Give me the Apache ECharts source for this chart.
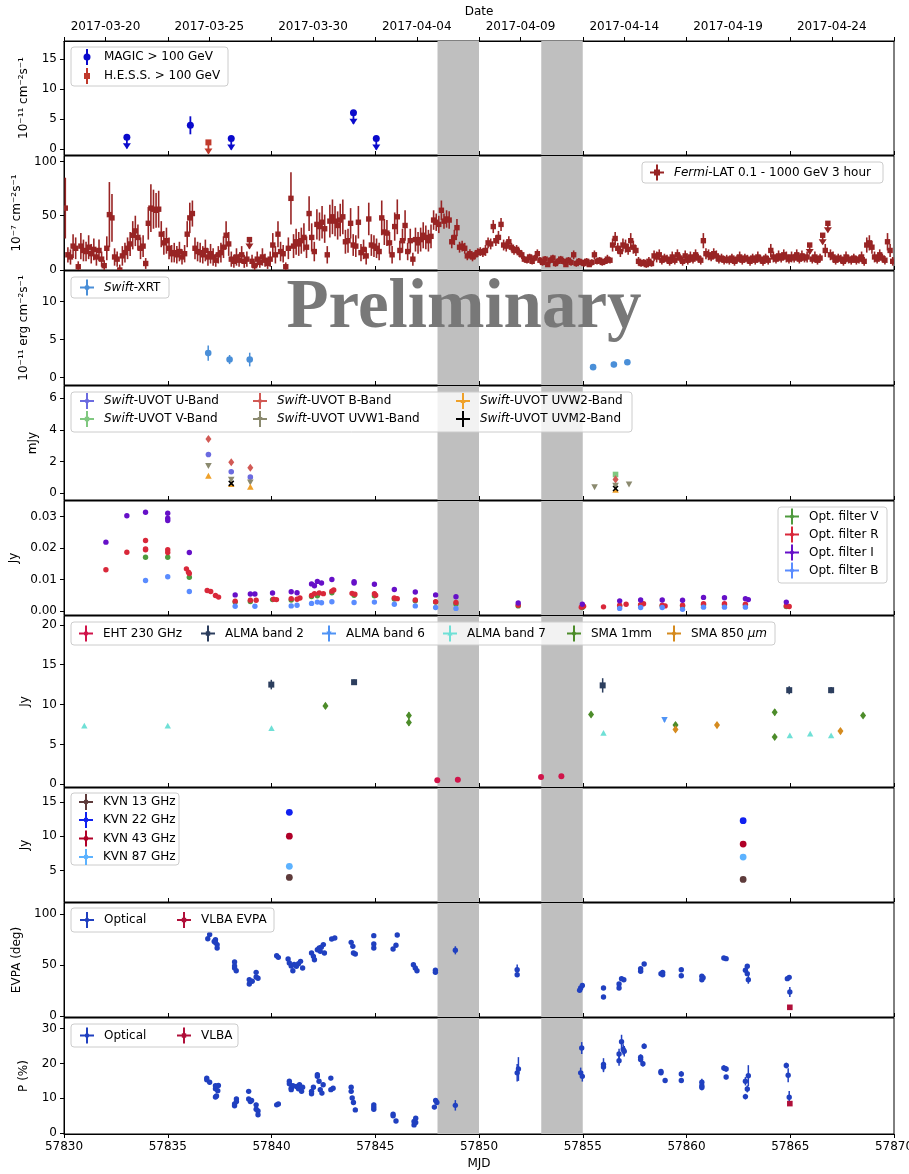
<!DOCTYPE html>
<html><head><meta charset="utf-8">
<script src="https://cdn.jsdelivr.net/npm/echarts@6/dist/echarts.min.js"></script>
<style>html,body{margin:0;padding:0;background:#fff}#c{width:909px;height:1174px}</style>
</head><body><div id="c"></div>
<script>
// ---------------- DATA ----------------
const mjdTicks = [57830,57835,57840,57845,57850,57855,57860,57865,57870];
const dateTickMJD = [57832,57837,57842,57847,57852,57857,57862,57867];
const dateTickLabels = ['2017-03-20','2017-03-25','2017-03-30','2017-04-04','2017-04-09','2017-04-14','2017-04-19','2017-04-24'];
const bands = [[57848,57850],[57853,57855]];

// [mjd, flux, err, upperLimit]
const magic = [[57833.03,1.95,0,1],[57836.09,3.95,1.5,0],[57838.06,1.75,0,1],[57843.95,6.05,0,1],[57845.05,1.75,0,1]];
const hess = [[57836.96,1.1,0,1]];

// Fermi-LAT 3-hour bins, one row per day starting MJD 57830
const fermiStart = 57830;
const fermiFlux = [
 [57,14,12,22,20,3,22,18],[17,21,15,19,12,18,10,4],[20,51,48,12,10,0,13,16],[20,24,32,36,30,20,22,6],
 [43,57,56,55,56,33,25,27],[20,15,16,14,17,12,15,33],[48,52,20,17,16,14,18,12],[15,12,9,14,16,21,32,24],
 [10,8,12,9,14,8,10,28],[8,4,10,7,12,9,6,10],[23,14,33,17,15,3,20,66],[22,26,24,27,30,21,52,30],
 [17,42,40,44,38,14,45,49],[45,41,46,49,26,27,43,23],[22,44,16,19,13,47,23,22],[20,17,48,35,34,25,14,40],
 [49,18,27,41,17,27,10,28],[25,28,32,30,27,31,46,44],[42,55,45,47,46,26,30,39],[21,22,20,13,15,12,14,16],
 [17,16,18,25,24,40,27,30],[42,23,22,26,21,18,19,16],[14,10,9,12,8,11,15,9],[7,10,5,9,11,6,8,10],
 [8,5,9,7,14,6,8,7],[6,8,5,7,14,8,9,7],[8,10,9,23,29,20,17,23],[22,19,27,21,18,8,6,7],
 [5,8,6,13,12,14,9,11],[10,8,12,9,14,11,8,13],[9,12,10,14,11,9,27,15],[14,12,15,13,10,11,9,10],
 [9,11,8,10,12,9,11,10],[8,11,9,12,10,8,11,9],[18,12,10,13,11,14,12,10],[12,11,14,10,13,11,12,23],
 [10,12,9,11,32,18,43,14],[12,9,11,10,8,12,10,9],[11,9,10,12,8,23,25,21],[12,10,14,11,9,26,18,8]
];
const fermiErr = [
 [28,7,7,11,10,5,12,10],[9,11,9,10,8,10,7,5],[11,30,22,8,7,5,9,9],[10,11,13,14,12,10,10,5],
 [15,22,18,16,17,12,11,12],[10,8,9,8,9,7,8,12],[14,12,10,9,9,8,10,8],[9,8,6,8,9,10,13,11],
 [7,6,8,6,8,6,7,0],[6,4,7,5,8,6,5,7],[11,8,12,9,8,4,10,24],[11,12,11,12,13,10,16,13],
 [9,14,13,15,13,8,15,16],[14,13,15,16,11,11,14,10],[10,15,8,9,8,15,10,10],[9,8,16,12,12,10,8,13],
 [16,9,11,14,8,11,6,11],[10,11,12,11,10,11,9,8],[8,9,7,8,8,6,7,8],[5,5,5,4,4,4,4,4],
 [4,4,5,5,5,6,5,6],[6,5,5,5,4,4,4,4],[4,3,3,3,3,3,4,3],[3,3,2,3,3,3,3,3],
 [3,2,3,3,4,3,3,3],[3,3,2,3,4,3,3,3],[3,4,3,6,6,5,5,6],[6,5,7,6,5,4,3,3],
 [3,4,3,5,5,5,4,4],[4,4,5,4,5,4,4,5],[4,5,4,5,4,4,7,5],[5,4,5,5,4,4,4,4],
 [4,4,4,4,5,4,4,4],[4,4,4,5,4,4,4,4],[6,5,4,5,4,5,5,4],[5,4,5,4,5,4,5,0],
 [4,5,4,4,0,6,0,5],[5,4,4,4,4,5,4,4],[4,4,4,5,4,7,7,6],[5,4,5,4,4,8,6,4]
];
const fermiUpperLimitBins = [71,287,292,294];

const xrt = [[57836.95,3.2,1.0],[57837.98,2.35,0.6],[57838.95,2.35,0.9],[57855.5,1.35,0.2],[57856.5,1.7,0.35],[57857.15,2.0,0.3]];

const uvotU = [[57836.96,2.45,0.08],[57838.06,1.36,0.08],[57838.98,1.02,0.08]];
const uvotV = [[57856.58,1.19,0.15]];
const uvotB = [[57836.96,3.43,0.15],[57838.06,1.96,0.12],[57838.98,1.61,0.12],[57856.58,0.88,0.12]];
const uvotW1 = [[57836.96,1.75,0.1],[57838.06,0.88,0.08],[57838.98,0.71,0.08],[57855.57,0.40,0.05],[57856.58,0.50,0.05],[57857.23,0.58,0.05]];
const uvotW2 = [[57836.96,1.09,0.08],[57838.06,0.56,0.06],[57838.98,0.40,0.05],[57856.58,0.20,0.04]];
const uvotM2 = [[57838.06,0.63,0.06],[57856.58,0.31,0.05]];

const optV = [[57833.93,0.0171],[57835.0,0.0171],[57836.04,0.0107],[57838.25,0.0028],[57838.98,0.0030],[57840.05,0.0036],[57840.95,0.0035],[57841.93,0.0046],[57842.21,0.0048],[57842.91,0.0058],[57843.98,0.0050],[57844.96,0.0048],[57845.92,0.0038],[57846.93,0.0032],[57847.91,0.0028],[57848.89,0.0022],[57851.89,0.0016],[57854.98,0.0011],[57856.78,0.0016],[57857.79,0.0018],[57858.83,0.0016],[57859.81,0.0016],[57860.82,0.0020],[57861.83,0.0020],[57862.84,0.0019],[57864.81,0.0014]];
const optR = [[57832.02,0.0131],[57833.03,0.0187],[57833.93,0.0224],[57833.93,0.0195],[57833.93,0.0197],[57835.0,0.0195],[57835.0,0.0186],[57835.9,0.0134],[57836.0,0.0123],[57836.04,0.0119],[57836.9,0.0065],[57837.07,0.0062],[57837.3,0.0049],[57837.45,0.0044],[57838.25,0.0031],[57838.98,0.0034],[57839.26,0.0034],[57840.1,0.0037],[57840.24,0.0036],[57840.95,0.0039],[57841.23,0.0037],[57841.37,0.0041],[57841.93,0.0049],[57842.07,0.0055],[57842.3,0.0057],[57842.5,0.0055],[57842.91,0.0063],[57843.0,0.0067],[57843.88,0.0056],[57844.02,0.0053],[57844.96,0.0055],[57845.02,0.0050],[57845.92,0.0041],[57846.06,0.0039],[57846.93,0.0035],[57847.91,0.0029],[57848.89,0.0027],[57851.89,0.0018],[57854.93,0.0012],[57855.04,0.0015],[57856.0,0.0013],[57856.78,0.0018],[57857.09,0.0021],[57857.79,0.0020],[57857.93,0.0023],[57858.83,0.0018],[57858.97,0.0016],[57859.81,0.0018],[57860.82,0.0023],[57861.83,0.0023],[57862.84,0.0021],[57864.81,0.0016],[57864.95,0.0014]];
const optI = [[57832.02,0.0219],[57833.03,0.0303],[57833.93,0.0314],[57835.0,0.0311],[57835.0,0.0295],[57835.0,0.0288],[57836.04,0.0186],[57838.25,0.0051],[57838.98,0.0054],[57839.2,0.0054],[57840.05,0.0057],[57840.95,0.0061],[57841.23,0.0058],[57841.93,0.0086],[57842.07,0.0080],[57842.21,0.0094],[57842.41,0.0089],[57842.91,0.0100],[57843.98,0.0089],[57843.98,0.0093],[57844.96,0.0085],[57845.92,0.0068],[57846.93,0.0060],[57847.91,0.0051],[57848.89,0.0045],[57851.89,0.0025],[57854.98,0.0021],[57856.78,0.0032],[57857.79,0.0035],[57858.83,0.0035],[57859.81,0.0034],[57860.82,0.0043],[57861.83,0.0042],[57862.84,0.0039],[57862.98,0.0036],[57864.81,0.0028]];
const optB = [[57833.93,0.0097],[57835.0,0.0109],[57836.04,0.0062],[57838.25,0.0015],[57839.2,0.0015],[57840.95,0.0016],[57841.23,0.0018],[57841.93,0.0024],[57842.21,0.0028],[57842.41,0.0026],[57842.91,0.0029],[57843.98,0.0027],[57844.96,0.0028],[57845.92,0.0021],[57846.93,0.0016],[57847.91,0.0011],[57848.89,0.0008],[57856.78,0.0008],[57857.79,0.0011],[57858.83,0.0011],[57859.81,0.0005],[57860.82,0.0012],[57861.83,0.0012],[57862.84,0.0012]];

const eht230 = [[57847.99,0.5],[57848.98,0.58],[57852.99,0.92],[57853.97,1.0]];
const almaB2 = [[57839.99,12.5,0.6],[57843.98,12.8,0.35],[57855.96,12.4,0.9],[57864.95,11.8,0.5],[57866.97,11.8,0.4]];
const almaB6 = [[57858.94,8.1,0.3]];
const almaB7 = [[57830.98,7.33],[57835.0,7.33],[57840.0,7.0],[57856.0,6.4],[57864.98,6.1],[57865.96,6.3],[57866.97,6.1]];
const sma1mm = [[57842.6,9.83,0.35],[57846.62,8.63,0.4],[57846.62,7.75,0.4],[57855.4,8.75,0.35],[57859.47,7.42,0.35],[57864.25,9.04,0.4],[57864.25,5.92,0.3],[57868.51,8.63,0.3]];
const sma850 = [[57859.47,6.88,0.3],[57861.47,7.42,0.3],[57867.42,6.67,0.3]];

const kvn13 = [[57840.86,3.98],[57862.73,3.68]];
const kvn22 = [[57840.86,13.5],[57862.73,12.27]];
const kvn43 = [[57840.86,10.0],[57862.73,8.85]];
const kvn87 = [[57840.86,5.6],[57862.73,6.95]];

const evpaOpt = [[57836.93,75.8,1.5],[57837.02,80,1.5],[57837.3,74.8,1.5],[57837.3,72,1.5],[57837.38,70,1.5],[57837.38,66.7,1.5],[57837.24,73,1.5],
 [57838.22,53,1.5],[57838.22,49,1.5],[57838.22,47,1.5],[57838.3,44.4,1.5],[57838.93,35.6,1.5],[57838.93,31.4,1.5],[57839.07,34,1.5],
 [57839.26,38.2,1.5],[57839.26,42.8,1.5],[57839.35,37,1.5],[57840.25,59,1.5],[57840.33,57.5,1.5],
 [57840.8,55.9,1.5],[57840.86,52,1.5],[57840.95,49,1.5],[57841.03,44.4,1.5],[57841.09,50.5,1.5],
 [57841.2,48.7,1.5],[57841.3,51.3,1.5],[57841.4,53.6,1.5],[57841.5,47,1.5],[57841.93,61.8,1.5],[57842.02,58.5,1.5],[57842.07,55.2,1.5],
 [57842.21,65,1.5],[57842.3,66.7,1.5],[57842.35,63.4,1.5],[57842.5,70,1.5],[57842.55,61.8,1.5],[57842.4,67.5,1.5],
 [57842.9,75.5,1.5],[57843.05,76.5,1.5],[57843.84,72.2,1.5],[57843.92,68.3,1.5],[57843.95,61.8,1.5],[57844.04,60.8,1.5],
 [57844.93,78.8,1.5],[57844.93,70.6,1.5],[57844.93,66.7,1.5],[57845.86,65.7,1.5],[57846.0,69.3,1.5],[57846.06,79.4,1.5],
 [57846.84,50.3,1.5],[57846.93,47,1.5],[57847.01,44.4,1.5],[57847.9,44.8,1.5],[57847.9,42.8,1.5],[57848.86,64.4,4],
 [57851.84,45.4,5],[57851.84,40.5,2],[57854.9,27.5,1.5],[57854.98,30,1.5],[57854.85,25.2,1.5],[57856.0,27.5,2],[57856.0,18.6,1.5],
 [57856.75,31.4,2],[57856.75,27.5,1.5],[57856.87,36.6,1.5],[57856.98,35.6,1.5],[57857.79,46.4,1.5],[57857.79,43.8,1.5],[57857.96,51,1.5],
 [57858.77,41.5,1.5],[57858.85,42.8,1.5],[57858.85,40.5,1.5],[57859.75,45.4,1.5],[57859.75,39.5,1.5],
 [57860.74,38.9,1.5],[57860.74,35.6,2],[57860.8,37.5,1.5],[57861.8,56.9,1.5],[57861.91,56.2,1.5],
 [57862.84,44.8,1.5],[57862.93,48.7,1.5],[57862.93,41.5,1.5],[57862.98,35.6,4],[57864.86,36.6,1.5],[57864.95,37.9,1.5],[57864.98,23.5,5]];
const evpaVLBA = [[57864.98,8.5,0.8]];

const polOpt = [[57836.88,15.8,0.6],[57836.88,15.3,0.6],[57837.02,14.6,0.6],[57837.3,12.75,0.6],[57837.3,13.6,0.6],[57837.41,12.2,0.6],[57837.35,10.7,0.6],[57837.44,13.7,0.6],[57837.3,10.4,0.6],
 [57838.22,7.9,0.6],[57838.22,8.4,0.6],[57838.31,9.8,0.6],[57838.31,9.1,0.6],[57838.9,12.0,0.6],[57838.9,9.8,0.6],[57838.98,9.1,0.6],[57839.04,9.4,0.6],
 [57839.26,8.15,0.6],[57839.26,6.9,0.6],[57839.35,6.4,0.6],[57839.35,5.3,0.6],[57840.25,8.15,0.5],[57840.33,8.4,0.5],
 [57840.86,14.9,0.6],[57840.86,14.2,0.6],[57840.95,12.9,0.6],[57840.95,12.5,0.6],[57841.03,13.6,0.6],[57841.2,13.4,0.6],[57841.3,12.75,0.6],[57841.35,13.9,0.6],[57841.45,12.0,0.6],[57841.5,13.2,0.6],
 [57841.93,12.0,0.6],[57841.93,11.3,0.6],[57842.02,13.2,0.6],[57842.21,16.3,0.6],[57842.21,16.8,0.6],[57842.29,14.9,0.6],[57842.35,12.5,0.6],[57842.43,11.5,0.6],[57842.49,13.9,0.6],
 [57842.86,12.5,0.6],[57842.86,15.8,0.6],[57842.97,12.9,0.6],[57843.84,13.2,0.6],[57843.84,12.0,0.6],[57843.89,10.1,0.6],[57843.95,8.8,0.6],[57844.04,6.7,0.6],
 [57844.93,8.15,0.6],[57844.93,6.9,0.6],[57844.93,7.5,0.6],[57845.86,5.5,0.5],[57845.86,5.0,0.5],[57846.0,3.5,0.5],
 [57846.87,3.4,0.6],[57846.87,2.4,0.6],[57846.95,4.3,0.6],[57846.95,3.1,0.6],[57847.85,7.5,0.6],[57847.91,9.4,0.6],[57847.97,8.8,0.6],[57848.86,8.0,1.5],
 [57851.84,17.3,2.5],[57851.9,18.4,3.4],[57854.9,17.3,1.5],[57854.95,24.4,1.7],[57854.98,16.3,1.5],[57856.0,19.0,1.5],[57856.0,19.7,1.8],
 [57856.75,22.7,1.5],[57856.75,20.8,1.5],[57856.87,26.2,2],[57856.95,24.0,1.5],[57857.0,23.5,1.5],
 [57857.79,21.8,0.8],[57857.79,21.1,0.8],[57857.9,19.9,0.8],[57857.96,24.9,0.8],[57858.77,17.7,0.6],[57858.77,17.3,0.6],[57858.97,15.1,0.6],
 [57859.75,17.0,0.8],[57859.75,15.1,0.6],[57860.74,14.6,1.0],[57860.74,13.6,1.0],[57860.74,13.1,0.8],[57861.8,18.7,0.8],[57861.91,18.4,0.8],[57861.91,16.1,0.6],
 [57862.84,14.9,1.2],[57862.84,10.5,0.8],[57862.93,12.7,1.0],[57862.98,16.5,3],[57864.81,19.4,0.8],[57864.9,16.6,2],[57864.95,10.3,1.8]];
const polVLBA = [[57864.98,8.5,0.6]];

// ---------------- LAYOUT ----------------
const gridTops = [41,156,271,386,501,616,788,903,1018];
const gridHeights = [114,114,114,114,114,171,114,114,116];
const yCfg = [
  {min:-1, max:18, ticks:[0,5,10,15], name:'10⁻¹¹ cm⁻²s⁻¹', gap:34},
  {min:0, max:105, ticks:[0,50,100], name:'10⁻⁷ cm⁻²s⁻¹', gap:38},
  {min:-1, max:14, ticks:[0,5,10], name:'10⁻¹¹ erg cm⁻²s⁻¹', gap:34},
  {min:-0.42, max:6.77, ticks:[0,2,4,6], name:'mJy', gap:22},
  {min:-0.0013, max:0.035, ticks:[0,0.01,0.02,0.03], name:'Jy', gap:35, dec:2},
  {min:-0.34, max:21.1, ticks:[0,5,10,15,20], name:'Jy', gap:30},
  {min:0.38, max:17.05, ticks:[5,10,15], name:'Jy', gap:30},
  {min:-1, max:110.8, ticks:[0,50,100], name:'EVPA (deg)', gap:36},
  {min:-0.2, max:33, ticks:[0,10,20,30], name:'P (%)', gap:34}
];
const FONT = 'DejaVu Sans';

function marker(kind, x, y, s, c, z) {
  const base = (z !== undefined) ? {z:z} : {};
  switch (kind) {
    case 'circle': return Object.assign({type:'circle', shape:{cx:x, cy:y, r:s}, style:{fill:c}}, base);
    case 'square': return Object.assign({type:'rect', shape:{x:x-s, y:y-s, width:2*s, height:2*s}, style:{fill:c}}, base);
    case 'diamond': return Object.assign({type:'polygon', shape:{points:[[x,y-s*1.35],[x+s,y],[x,y+s*1.35],[x-s,y]]}, style:{fill:c}}, base);
    case 'tridown': return Object.assign({type:'polygon', shape:{points:[[x-s,y-s*0.8],[x+s,y-s*0.8],[x,y+s]]}, style:{fill:c}}, base);
    case 'triup': return Object.assign({type:'polygon', shape:{points:[[x-s,y+s*0.8],[x+s,y+s*0.8],[x,y-s]]}, style:{fill:c}}, base);
    case 'x': return Object.assign({type:'group', children:[
      Object.assign({type:'line', shape:{x1:x-s,y1:y-s,x2:x+s,y2:y+s}, style:{stroke:c, lineWidth:1.5}}, base),
      Object.assign({type:'line', shape:{x1:x-s,y1:y+s,x2:x+s,y2:y-s}, style:{stroke:c, lineWidth:1.5}}, base)]}, base);
  }
  return Object.assign({type:'circle', shape:{cx:x, cy:y, r:s}, style:{fill:c}}, base);
}

function errSeries(name, gi, data, o) {
  return {
    type:'custom', name, xAxisIndex:gi, yAxisIndex:gi, clip:true, z:o.z || 3,
    data: data.map(d => [d[0], d[1], d[2] || 0, d[3] || 0]),
    encode:{x:0, y:1},
    renderItem: function (params, api) {
      const x = api.value(0), y = api.value(1), e = api.value(2), ul = api.value(3);
      const p = api.coord([x, y]);
      const c = o.color, lw = o.lw || 1.5;
      const ch = [];
      if (ul) {
        const L = o.ulLen || 11;
        ch.push({type:'line', shape:{x1:p[0], y1:p[1], x2:p[0], y2:p[1]+L}, style:{stroke:c, lineWidth:lw}});
        ch.push({type:'polygon', shape:{points:[[p[0]-4,p[1]+L-5],[p[0]+4,p[1]+L-5],[p[0],p[1]+L+1]]}, style:{fill:c}});
      } else if (e > 0) {
        const a = api.coord([x, y+e]), b = api.coord([x, y-e]);
        ch.push({type:'line', shape:{x1:p[0], y1:a[1], x2:p[0], y2:b[1]}, style:{stroke:c, lineWidth:lw}});
      }
      ch.push(marker(o.marker, p[0], p[1], o.size, c));
      return {type:'group', children:ch};
    }
  };
}

function bandSeries(gi) {
  return {
    type:'custom', name:'band'+gi, xAxisIndex:gi, yAxisIndex:gi, clip:true, z:1, silent:true,
    data: bands, encode:{x:[0,1]},
    renderItem: function (params, api) {
      const a = api.coord([api.value(0), 0]), b = api.coord([api.value(1), 0]);
      const cs = params.coordSys;
      return {type:'rect', shape:{x:a[0], y:cs.y, width:b[0]-a[0], height:cs.height}, style:{fill:'#bfbfbf'}};
    }
  };
}

const fermiData = [];
fermiFlux.forEach((row, d) => row.forEach((v, k) => {
  const i = d*8 + k;
  fermiData.push([fermiStart + d + (k + 0.5)/8, v, fermiErr[d][k], fermiUpperLimitBins.indexOf(i) >= 0 ? 1 : 0]);
}));

const C = {
  magic:'#0a0acc', hess:'#c0392b', fermi:'#982424', xrt:'#4a8fd8',
  U:'#6b6be0', V:'#80c880', B:'#d25a55', W1:'#8b8a6f', W2:'#efa12a', M2:'#000000',
  oV:'#4e9a3e', oR:'#d9283a', oI:'#6610c8', oB:'#5a8cff',
  eht:'#d0144a', a2:'#2c3e5e', a6:'#4f93f5', a7:'#6fe0d6', s1:'#4d8c2a', s8:'#d58b1f',
  k13:'#5e3b3b', k22:'#1020f0', k43:'#b00028', k87:'#5cb2ff', opt:'#2040c0', vlba:'#b0103a'
};

const series = [];
for (let g = 0; g < 9; g++) series.push(bandSeries(g));
series.push(errSeries('MAGIC', 0, magic, {color:C.magic, marker:'circle', size:3.5, lw:1.8, ulLen:11}));
series.push(errSeries('HESS', 0, hess, {color:C.hess, marker:'square', size:3, lw:1.8, ulLen:11}));
series.push(errSeries('Fermi', 1, fermiData, {color:C.fermi, marker:'square', size:2.7, lw:1.6, ulLen:9}));
series.push(errSeries('XRT', 2, xrt, {color:C.xrt, marker:'circle', size:3.3}));
series.push(errSeries('U', 3, uvotU, {color:C.U, marker:'circle', size:2.8}));
series.push(errSeries('V', 3, uvotV, {color:C.V, marker:'square', size:2.8}));
series.push(errSeries('B', 3, uvotB, {color:C.B, marker:'diamond', size:3}));
series.push(errSeries('W1', 3, uvotW1, {color:C.W1, marker:'tridown', size:3.3}));
series.push(errSeries('W2', 3, uvotW2, {color:C.W2, marker:'triup', size:3.3}));
series.push(errSeries('M2', 3, uvotM2, {color:C.M2, marker:'x', size:2.5}));
series.push(errSeries('oV', 4, optV, {color:C.oV, marker:'circle', size:2.7}));
series.push(errSeries('oR', 4, optR, {color:C.oR, marker:'circle', size:2.7}));
series.push(errSeries('oI', 4, optI, {color:C.oI, marker:'circle', size:2.7}));
series.push(errSeries('oB', 4, optB, {color:C.oB, marker:'circle', size:2.7}));
series.push(errSeries('EHT', 5, eht230, {color:C.eht, marker:'circle', size:3}));
series.push(errSeries('A2', 5, almaB2, {color:C.a2, marker:'square', size:3}));
series.push(errSeries('A6', 5, almaB6, {color:C.a6, marker:'tridown', size:3.2}));
series.push(errSeries('A7', 5, almaB7, {color:C.a7, marker:'triup', size:3.2}));
series.push(errSeries('S1', 5, sma1mm, {color:C.s1, marker:'diamond', size:3}));
series.push(errSeries('S8', 5, sma850, {color:C.s8, marker:'diamond', size:3}));
series.push(errSeries('K13', 6, kvn13, {color:C.k13, marker:'circle', size:3.4}));
series.push(errSeries('K22', 6, kvn22, {color:C.k22, marker:'circle', size:3.4}));
series.push(errSeries('K43', 6, kvn43, {color:C.k43, marker:'circle', size:3.4}));
series.push(errSeries('K87', 6, kvn87, {color:C.k87, marker:'circle', size:3.4}));
series.push(errSeries('EVPAopt', 7, evpaOpt, {color:C.opt, marker:'circle', size:2.7}));
series.push(errSeries('EVPAvlba', 7, evpaVLBA, {color:C.vlba, marker:'square', size:2.8}));
series.push(errSeries('Popt', 8, polOpt, {color:C.opt, marker:'circle', size:2.7}));
series.push(errSeries('Pvlba', 8, polVLBA, {color:C.vlba, marker:'square', size:2.8}));

const grids = gridTops.map((t, i) => ({left:64, width:830, top:t, height:gridHeights[i], show:true,
  borderColor:'#000', borderWidth:1, backgroundColor:'transparent', containLabel:false, outerBoundsMode:'none'}));

const xAxes = gridTops.map((t, i) => ({
  gridIndex:i, type:'value', min:57830, max:57870, position:'bottom',
  axisLine:{show:true, onZero:false, lineStyle:{color:'#000', width:1}},
  axisTick:{show:true, customValues:mjdTicks, inside: i < 8, length:4, lineStyle:{color:'#000'}},
  axisLabel:{show: i === 8, customValues:mjdTicks, formatter: v => String(v), color:'#000', fontFamily:FONT, fontSize:12, margin:7},
  splitLine:{show:false},
  name: i === 8 ? 'MJD' : '', nameLocation:'middle', nameGap:24,
  nameTextStyle:{color:'#000', fontFamily:FONT, fontSize:12}
}));
xAxes.push({
  gridIndex:0, type:'value', min:57830, max:57870, position:'top',
  axisLine:{show:true, onZero:false, lineStyle:{color:'#000'}},
  axisTick:{show:true, customValues: mjdTicks.concat(dateTickMJD).sort((a,b)=>a-b), length:4, lineStyle:{color:'#000'}},
  axisLabel:{show:true, customValues:dateTickMJD, formatter: v => dateTickLabels[dateTickMJD.indexOf(v)] || '', color:'#000', fontFamily:FONT, fontSize:12, margin:8},
  splitLine:{show:false},
  name:'Date', nameLocation:'middle', nameGap:23,
  nameTextStyle:{color:'#000', fontFamily:FONT, fontSize:12}
});

const yAxes = yCfg.map((c, i) => ({
  gridIndex:i, type:'value', min:c.min, max:c.max,
  axisLine:{show:true, onZero:false, lineStyle:{color:'#000'}},
  axisTick:{show:true, customValues:c.ticks, length:4, lineStyle:{color:'#000'}},
  axisLabel:{customValues:c.ticks, color:'#000', fontFamily:FONT, fontSize:12, margin:7,
    formatter: v => c.dec ? v.toFixed(c.dec) : String(v)},
  splitLine:{show:false},
  name:c.name, nameLocation:'middle', nameGap:c.gap, nameRotate:90,
  nameTextStyle:{color:'#000', fontFamily:FONT, fontSize:12}
}));

// ---------------- LEGENDS (graphic) ----------------
const LZ = 100;
function legendBox(x, y, w, h, items) {
  const ch = [{type:'rect', z:LZ, shape:{x, y, width:w, height:h, r:3}, style:{fill:'rgba(255,255,255,0.8)', stroke:'#cccccc', lineWidth:1}}];
  items.forEach(it => {
    const c = it.color;
    ch.push({type:'line', z:LZ+1, shape:{x1:it.x, y1:it.y-8, x2:it.x, y2:it.y+8}, style:{stroke:c, lineWidth:2}});
    if (it.h !== false) ch.push({type:'line', z:LZ+1, shape:{x1:it.x-7, y1:it.y, x2:it.x+7, y2:it.y}, style:{stroke:c, lineWidth:2}});
    if (it.m) ch.push(marker(it.m, it.x, it.y, it.s || 2.6, c, LZ+2));
    const st = {text:it.t, x:it.x+17, y:it.y, fill:'#000', font:'12px "' + FONT + '"',
      textVerticalAlign:'middle', verticalAlign:'middle', textAlign:'left', align:'left'};
    if (it.t.indexOf('{i|') >= 0) st.rich = {i:{fontStyle:'italic', fontFamily:FONT, fontSize:12, fill:'#000', color:'#000'}};
    ch.push({type:'text', z:LZ+2, style:st});
  });
  return {type:'group', z:LZ, children:ch};
}

const graphics = [
  {type:'text', z:50, style:{text:'Preliminary', x:464, y:309, font:'bold 69px "Liberation Serif"', fill:'#787878',
    textAlign:'center', align:'center', textVerticalAlign:'middle', verticalAlign:'middle'}},
  legendBox(71, 47, 157, 39, [
    {x:87, y:57, color:C.magic, m:'circle', s:3.5, h:false, t:'MAGIC > 100 GeV'},
    {x:87, y:76, color:C.hess, m:'square', s:3, h:false, t:'H.E.S.S. > 100 GeV'}]),
  legendBox(642, 162, 241, 21, [
    {x:657, y:172.5, color:C.fermi, m:'square', s:3, t:'{i|Fermi}-LAT 0.1 - 1000 GeV 3 hour'}]),
  legendBox(71, 277, 98, 21, [
    {x:87, y:287.5, color:C.xrt, m:'circle', s:2.5, t:'{i|Swift}-XRT'}]),
  legendBox(71, 392, 561, 40, [
    {x:87, y:401, color:C.U, m:'circle', s:2.2, t:'{i|Swift}-UVOT U-Band'},
    {x:87, y:419, color:C.V, m:'square', s:2.2, t:'{i|Swift}-UVOT V-Band'},
    {x:260, y:401, color:C.B, m:'diamond', s:2.4, t:'{i|Swift}-UVOT B-Band'},
    {x:260, y:419, color:C.W1, m:'tridown', s:2.6, t:'{i|Swift}-UVOT UVW1-Band'},
    {x:463, y:401, color:C.W2, m:'triup', s:2.6, t:'{i|Swift}-UVOT UVW2-Band'},
    {x:463, y:419, color:C.M2, t:'{i|Swift}-UVOT UVM2-Band'}]),
  legendBox(778, 507, 109, 76, [
    {x:792, y:516.5, color:C.oV, m:'circle', s:2, t:'Opt. filter V'},
    {x:792, y:534.5, color:C.oR, m:'circle', s:2, t:'Opt. filter R'},
    {x:792, y:552.5, color:C.oI, m:'circle', s:2, t:'Opt. filter I'},
    {x:792, y:570.5, color:C.oB, m:'circle', s:2, t:'Opt. filter B'}]),
  legendBox(71, 622, 704, 23, [
    {x:86, y:633.5, color:C.eht, m:'circle', s:2.2, t:'EHT 230 GHz'},
    {x:208, y:633.5, color:C.a2, m:'square', s:2.2, t:'ALMA band 2'},
    {x:329, y:633.5, color:C.a6, m:'tridown', s:2.6, t:'ALMA band 6'},
    {x:450, y:633.5, color:C.a7, m:'triup', s:2.6, t:'ALMA band 7'},
    {x:574, y:633.5, color:C.s1, m:'diamond', s:2.4, t:'SMA 1mm'},
    {x:674, y:633.5, color:C.s8, m:'diamond', s:2.4, t:'SMA 850 {i|μm}'}]),
  legendBox(71, 793, 108, 72, [
    {x:86, y:802, color:C.k13, m:'circle', s:2.4, t:'KVN 13 GHz'},
    {x:86, y:820, color:C.k22, m:'circle', s:2.4, t:'KVN 22 GHz'},
    {x:86, y:838.5, color:C.k43, m:'circle', s:2.4, t:'KVN 43 GHz'},
    {x:86, y:857, color:C.k87, m:'circle', s:2.4, t:'KVN 87 GHz'}]),
  legendBox(71, 908, 203, 24, [
    {x:87, y:920, color:C.opt, m:'circle', s:2.2, t:'Optical'},
    {x:184, y:920, color:C.vlba, m:'square', s:2.2, t:'VLBA EVPA'}]),
  legendBox(71, 1024, 167, 23, [
    {x:87, y:1035.5, color:C.opt, m:'circle', s:2.2, t:'Optical'},
    {x:184, y:1035.5, color:C.vlba, m:'square', s:2.2, t:'VLBA'}])
];

const chart = echarts.init(document.getElementById('c'), null, {renderer:'canvas'});
chart.setOption({
  animation:false,
  backgroundColor:'#ffffff',
  textStyle:{fontFamily:FONT},
  grid:grids, xAxis:xAxes, yAxis:yAxes, series, graphic:graphics
});
</script></body></html>
